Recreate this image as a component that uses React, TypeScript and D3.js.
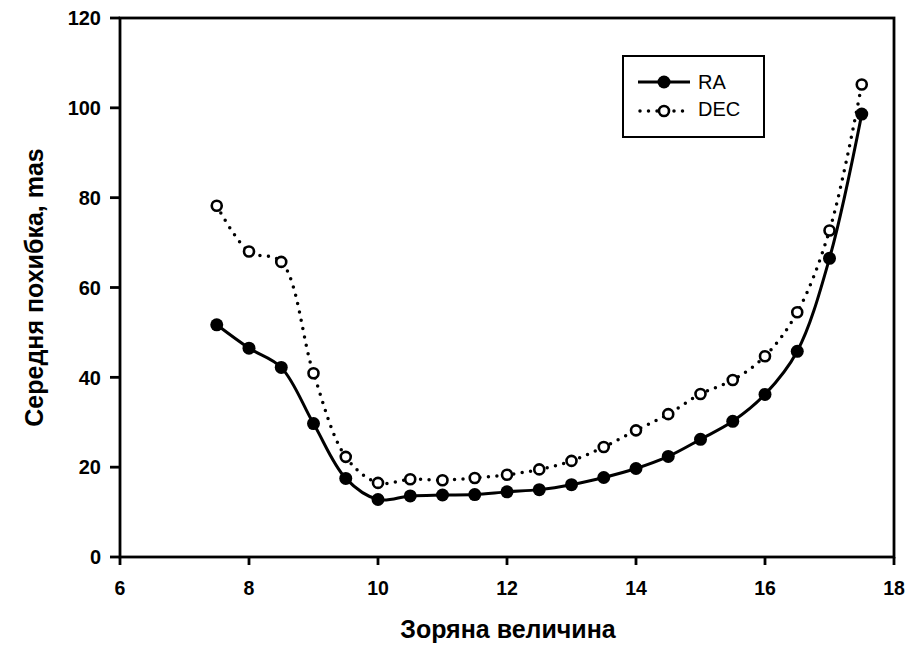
import React from "react";
import * as d3 from "d3";

const magnitudes = [7.5, 8, 8.5, 9, 9.5, 10, 10.5, 11, 11.5, 12, 12.5, 13, 13.5, 14, 14.5, 15, 15.5, 16, 16.5, 17, 17.5];
const raValues = [51.7, 46.5, 42.2, 29.7, 17.5, 12.8, 13.6, 13.8, 13.9, 14.5, 15.0, 16.1, 17.7, 19.7, 22.4, 26.2, 30.2, 36.2, 45.8, 66.5, 98.6];
const decValues = [78.2, 68.0, 65.7, 40.9, 22.3, 16.5, 17.3, 17.1, 17.6, 18.3, 19.5, 21.4, 24.5, 28.2, 31.8, 36.3, 39.4, 44.7, 54.5, 72.7, 105.2];
const xTicks = [6, 8, 10, 12, 14, 16, 18];
const yTicks = [0, 20, 40, 60, 80, 100, 120];
const xTitle = "Зоряна величина";
const yTitle = "Середня похибка, mas";
const seriesNames = ["RA", "DEC"];

export default function App() {
  const W = 919, H = 647;
  const left = 120, right = 894, top = 18, bottom = 557;
  const x = d3.scaleLinear().domain([6, 18]).range([left, right]);
  const y = d3.scaleLinear().domain([0, 120]).range([bottom, top]);
  const line = d3
    .line<number>()
    .x((_, i) => x(magnitudes[i]))
    .y((d) => y(d))
    .curve(d3.curveCatmullRom.alpha(0.5));
  const font = "Liberation Sans, Arial, sans-serif";
  return (
    <svg width={W} height={H} style={{ position: "absolute", left: 0, top: 0, background: "#fff" }}>
      <rect x={0} y={0} width={W} height={H} fill="#fff" />
      <rect x={left} y={top} width={right - left} height={bottom - top} fill="none" stroke="#000" strokeWidth={2.8} />
      {yTicks.map((t) => (
        <g key={"y" + t}>
          <line x1={left - 10} x2={left} y1={y(t)} y2={y(t)} stroke="#000" strokeWidth={2.8} />
          <text x={101} y={y(t)} dy="0.36em" textAnchor="end" fontFamily={font} fontWeight="bold" fontSize={20}>
            {t}
          </text>
        </g>
      ))}
      {xTicks.map((t) => (
        <g key={"x" + t}>
          <line x1={x(t)} x2={x(t)} y1={bottom} y2={bottom + 8} stroke="#000" strokeWidth={2.8} />
          <text x={x(t)} y={595} textAnchor="middle" fontFamily={font} fontWeight="bold" fontSize={19.5}>
            {t}
          </text>
        </g>
      ))}
      <text x={508} y={638} textAnchor="middle" fontFamily={font} fontWeight="bold" fontSize={25}>
        {xTitle}
      </text>
      <text
        transform={`translate(43, ${(top + bottom) / 2}) rotate(-90)`}
        textAnchor="middle"
        fontFamily={font}
        fontWeight="bold"
        fontSize={25}
      >
        {yTitle}
      </text>
      <path d={line(decValues) || ""} fill="none" stroke="#000" strokeWidth={3.5} strokeLinecap="round" strokeDasharray="0 8.5" />
      <path d={line(raValues) || ""} fill="none" stroke="#000" strokeWidth={3} />
      {decValues.map((v, i) => (
        <circle key={"d" + i} cx={x(magnitudes[i])} cy={y(v)} r={5} fill="#fff" stroke="#000" strokeWidth={2.6} />
      ))}
      {raValues.map((v, i) => (
        <circle key={"r" + i} cx={x(magnitudes[i])} cy={y(v)} r={6.5} fill="#000" />
      ))}
      <rect x={623} y={56} width={141} height={81} fill="#fff" stroke="#000" strokeWidth={2} />
      <line x1={638} x2={690} y1={82} y2={82} stroke="#000" strokeWidth={3} />
      <circle cx={664} cy={82} r={6.5} fill="#000" />
      <text x={698} y={89} fontFamily={font} fontSize={20}>
        {seriesNames[0]}
      </text>
      <line x1={640} x2={690} y1={111} y2={111} stroke="#000" strokeWidth={3.5} strokeLinecap="round" strokeDasharray="0 8.5" />
      <circle cx={664} cy={111} r={5} fill="#fff" stroke="#000" strokeWidth={2.6} />
      <text x={698} y={116} fontFamily={font} fontSize={20}>
        {seriesNames[1]}
      </text>
    </svg>
  );
}
